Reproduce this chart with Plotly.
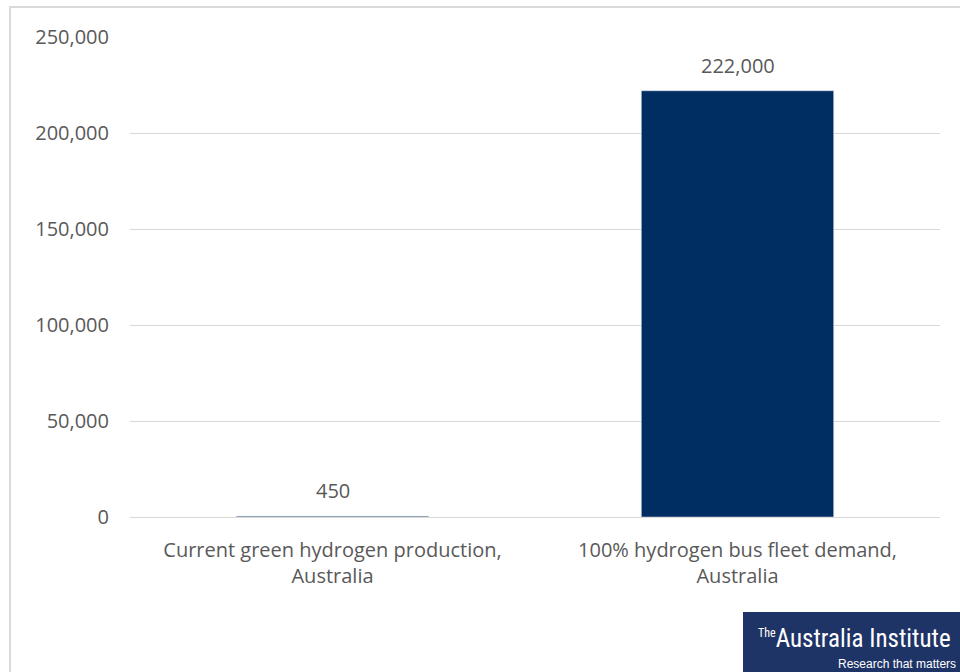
import plotly.graph_objects as go

categories = ["Current green hydrogen production,<br>Australia",
              "100% hydrogen bus fleet demand,<br>Australia"]
values = [450, 222000]
tick_vals = [0, 50000, 100000, 150000, 200000, 250000]
tick_text = ["0", "50,000", "100,000", "150,000", "200,000", "250,000"]

FONT = "Open Sans, sans-serif"
GREY = "#595959"
NAVY = "#002d62"
FS = 20

L, R, T, B = 130, 20, 37, 155
W, H = 960, 672
pw, ph = W - L - R, H - T - B

def px2x(px):
    return (px - L) / pw

def py2y(py):
    return (H - B - py) / ph

fig = go.Figure(go.Bar(
    x=categories, y=values, marker_color=NAVY,
    cliponaxis=False, width=0.475,
))

for c, v in zip(categories, values):
    fig.add_annotation(x=c, y=v, text=f"{v:,}", showarrow=False,
                       yanchor="bottom", yshift=10,
                       font=dict(size=FS, color=GREY, family=FONT))

fig.update_layout(
    width=W, height=H, margin=dict(l=L, r=R, t=T, b=B),
    paper_bgcolor="white", plot_bgcolor="white", showlegend=False,
    font=dict(family=FONT, color=GREY, size=FS),
    xaxis=dict(showline=False, ticks="", ticklabelstandoff=19,
               tickfont=dict(size=FS, color=GREY)),
    yaxis=dict(range=[0, 250000], tickvals=tick_vals, ticktext=tick_text,
               showgrid=True, gridcolor="#d9d9d9", gridwidth=1,
               zeroline=True, zerolinecolor="#d9d9d9", zerolinewidth=1,
               ticks="", ticklabelstandoff=20, tickfont=dict(size=FS, color=GREY)),
)

# chart border
fig.add_shape(type="rect", xref="paper", yref="paper",
              x0=px2x(10), x1=px2x(990), y0=py2y(700), y1=py2y(7),
              line=dict(color="#d9d9d9", width=2), fillcolor="rgba(0,0,0,0)", layer="below")

# logo box
fig.add_shape(type="rect", xref="paper", yref="paper",
              x0=px2x(743), x1=px2x(990), y0=py2y(700), y1=py2y(612),
              line=dict(width=0), fillcolor="#1f3466")
fig.add_annotation(xref="paper", yref="paper", x=px2x(756), y=py2y(638),
                   text="<sup><span style='font-size:12px'>The</span></sup>Australia Institute",
                   showarrow=False, xanchor="left", yanchor="middle",
                   font=dict(family="Liberation Sans Narrow, Roboto Condensed, sans-serif",
                             size=25, color="white"))
fig.add_annotation(xref="paper", yref="paper", x=px2x(958), y=py2y(664),
                   text="Research that matters", showarrow=False,
                   xanchor="right", yanchor="middle",
                   font=dict(family="Liberation Sans Narrow, sans-serif",
                             size=12, color="white"))

fig.write_html("out.html")
